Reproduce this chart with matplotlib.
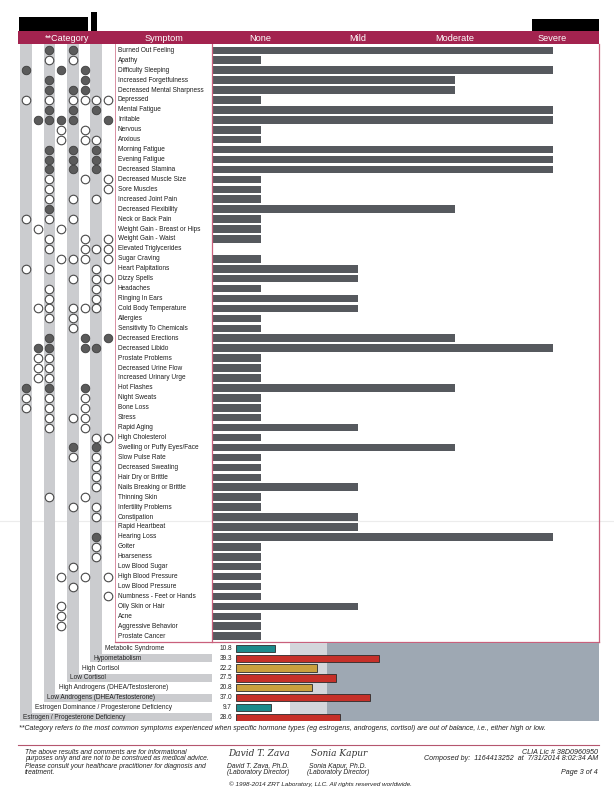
import matplotlib
matplotlib.use("Agg")
import matplotlib.pyplot as plt
from matplotlib import font_manager as fm
from matplotlib import transforms as mtransforms
from matplotlib.patches import Rectangle
from matplotlib.lines import Line2D

# ---------------- data ----------------
symptoms = [
    "Burned Out Feeling", "Apathy", "Difficulty Sleeping", "Increased Forgetfulness",
    "Decreased Mental Sharpness", "Depressed", "Mental Fatigue", "Irritable", "Nervous",
    "Anxious", "Morning Fatigue", "Evening Fatigue", "Decreased Stamina",
    "Decreased Muscle Size", "Sore Muscles", "Increased Joint Pain", "Decreased Flexibility",
    "Neck or Back Pain", "Weight Gain - Breast or Hips", "Weight Gain - Waist",
    "Elevated Triglycerides", "Sugar Craving", "Heart Palpitations", "Dizzy Spells",
    "Headaches", "Ringing In Ears", "Cold Body Temperature", "Allergies",
    "Sensitivity To Chemicals", "Decreased Erections", "Decreased Libido",
    "Prostate Problems", "Decreased Urine Flow", "Increased Urinary Urge", "Hot Flashes",
    "Night Sweats", "Bone Loss", "Stress", "Rapid Aging", "High Cholesterol",
    "Swelling or Puffy Eyes/Face", "Slow Pulse Rate", "Decreased Sweating",
    "Hair Dry or Brittle", "Nails Breaking or Brittle", "Thinning Skin",
    "Infertility Problems", "Constipation", "Rapid Heartbeat", "Hearing Loss", "Goiter",
    "Hoarseness", "Low Blood Sugar", "High Blood Pressure", "Low Blood Pressure",
    "Numbness - Feet or Hands", "Oily Skin or Hair", "Acne", "Aggressive Behavior",
    "Prostate Cancer",
]
severity_levels = ["None", "Mild", "Moderate", "Severe"]
# 0=None 1=Mild 2=Moderate 3=Severe, None = not reported
severity = [3, 0, 3, 2, 2, 0, 3, 3, 0, 0,
            3, 3, 3, 0, 0, 0, 2, 0, 0, 0,
            None, 0, 1, 1, 0, 1, 1, 0, 0, 2,
            3, 0, 0, 0, 2, 0, 0, 0, 1, 0,
            2, 0, 0, 0, 1, 0, 0, 1, 1, 3,
            0, 0, 0, 0, 0, 0, 1, 0, 0, 0]
# category marks per symptom, columns left->right; F=filled, O=open, .=none
category_marks = [
    "..F.F...", "..O.O...", "F..F.F..", "..F..F..", "..F.FF..",
    "O.O.OOOO", "..F.F.F.", ".FFFF..F", "...O.O..", "...O.OO.",
    "..F.F.F.", "..F.F.F.", "..F.F.F.", "..O..O.O", "..O....O",
    "..O.O.O.", "..F.....", "O.O.O...", ".O.O....", "..O..O.O",
    "..O..OOO", "...OOO.O", "O.O...O.", "....O.OO", "..O...O.",
    "..O...O.", ".OO.OOO.", "..O.O...", "....O...", "..F..F.F",
    ".FF..FF.", ".OO.....", ".OO.....", ".OO.....", "F.F..F..",
    "O.O..O..", "O.O..O..", "..O.OO..", "..O..O..", "......OO",
    "....F.F.", "....O.O.", "......O.", "......O.", "......O.",
    "..O..O..", "....O.O.", "......O.", "........", "......F.",
    "......O.", "......O.", "....O...", "...O.O.O", "....O...",
    ".......O", "...O....", "...O....", "...O....", "........",
]
categories = ["Metabolic Syndrome", "Hypometabolism", "High Cortisol", "Low Cortisol",
              "High Androgens (DHEA/Testosterone)", "Low Androgens (DHEA/Testosterone)",
              "Estrogen Dominance / Progesterone Deficiency",
              "Estrogen / Progesterone Deficiency"]
scores = [10.8, 39.3, 22.2, 27.5, 20.8, 37.0, 9.7, 28.6]
shaded_categories = ["Hypometabolism", "Low Cortisol", "Low Androgens (DHEA/Testosterone)",
                     "Estrogen / Progesterone Deficiency"]
score_bands = [15, 25, 100]

# ---------------- style ----------------
names = {f.name for f in fm.fontManager.ttflist}
FAM = [f for f in ["Liberation Sans Narrow", "Liberation Sans", "DejaVu Sans"] if f in names]
plt.rcParams["font.family"] = FAM
MAROON = "#a3234f"
BARC = "#56595e"
STRIPE = "#cbcccf"
PINK = "#c9607c"
DOT = "#5b5b5b"

W, H = 614, 800
fig = plt.figure(figsize=(W / 100, H / 100), dpi=100)
fig.patch.set_facecolor("white")
renderer = fig.canvas.get_renderer()


def ax_px(x0, y0, x1, y1):
    return fig.add_axes([x0 / W, 1 - y1 / H, (x1 - x0) / W, (y1 - y0) / H])


def fit(t, width_px):
    bb = t.get_window_extent(renderer)
    t.set_fontsize(t.get_fontsize() * width_px / bb.width)
    return t.get_fontsize()


def ftext(x, y, s, **kw):
    return fig.text(x / W, 1 - y / H, s, **kw)


# layout (pixels)
ROW0, ROWH = 50.3, 9.93
TOP, SYM_BOT = 44.3, 642.1
COL0, COLW = 26.0, 11.7
LEFT, BAR_L, RIGHT = 18, 212, 599
BOT_TOP, BOT_BOT, BOT_ROW0, BOT_ROWH, BOT_L = 643.3, 720.7, 648.3, 9.86, 236
LEVEL_W = 97.3


def row(px):
    return (px - ROW0) / ROWH


def col(px):
    return (px - COL0) / COLW


# faint scanner fold line
fig.add_artist(Line2D([0, 1], [1 - 521 / H] * 2, color="#ececec", lw=0.8,
                      transform=fig.transFigure, zorder=0))

# ---------------- left panel: categories + symptom names ----------------
axl = ax_px(LEFT, TOP, BAR_L, BOT_BOT)
axl.set_xlim(col(LEFT), col(BAR_L))
axl.set_ylim(row(BOT_BOT), row(TOP))
axl.axis("off")
ncat = len(categories)
for k, cat in enumerate(categories):
    c = ncat - 1 - k
    rk = row(BOT_ROW0 + k * BOT_ROWH)
    if cat in shaded_categories:
        axl.add_patch(Rectangle((c - 0.5, row(TOP)), 1.0, rk + 0.41 - row(TOP),
                                facecolor=STRIPE, lw=0, zorder=0))
        axl.add_patch(Rectangle((c - 0.5, rk - 0.41), col(BAR_L) - (c - 0.5), 0.82,
                                facecolor=STRIPE, lw=0, zorder=0))
cat_txt = []
for k, cat in enumerate(categories):
    c = ncat - 1 - k
    rk = row(BOT_ROW0 + k * BOT_ROWH)
    cat_txt.append(axl.text(c - 0.22, rk, cat, ha="left", va="center",
                            fontsize=6, color="#222222"))

fx, fy, ox, oy = [], [], [], []
for i, marks in enumerate(category_marks):
    for c, ch in enumerate(marks):
        if ch == "F":
            fx.append(c); fy.append(i)
        elif ch == "O":
            ox.append(c); oy.append(i)
axl.scatter(fx, fy, s=38, facecolor=DOT, edgecolor="#3d3d3d", linewidth=0.6, zorder=3)
axl.scatter(ox, oy, s=38, facecolor="white", edgecolor="#4a4a4a", linewidth=0.8, zorder=3)

sym_txt = []
for i, s in enumerate(symptoms):
    sym_txt.append(axl.text(col(118), i, s, ha="left", va="center", fontsize=6,
                            color="#1e1e1e"))
axl.plot([col(115), col(115)], [row(TOP), row(SYM_BOT)], color=PINK, lw=0.7, alpha=0.7)
axl.plot([col(115), col(BAR_L)], [row(SYM_BOT), row(SYM_BOT)], color=PINK, lw=0.9)

# ---------------- symptom severity bars ----------------
axb = ax_px(BAR_L, TOP, RIGHT, SYM_BOT)
axb.set_xlim(-0.5, (RIGHT - BAR_L) / LEVEL_W - 0.5)
axb.set_ylim(row(SYM_BOT), row(TOP))
ys = [i for i, v in enumerate(severity) if v is not None]
ws = [severity[i] + 0.5 for i in ys]
axb.barh(ys, ws, left=-0.5, height=0.76, color=BARC, lw=0)
axb.set_xticks([]); axb.set_yticks([])
axb.set_facecolor("none")
axb.spines["top"].set_visible(False)
for sp in ("left", "right", "bottom"):
    axb.spines[sp].set_color(PINK)
    axb.spines[sp].set_linewidth(0.9)

# ---------------- header band ----------------
axh = ax_px(LEFT, 31, RIGHT, TOP)
axh.set_xlim(LEFT, RIGHT); axh.set_ylim(0, 1)
axh.set_facecolor(MAROON)
axh.set_xticks([]); axh.set_yticks([])
for sp in axh.spines.values():
    sp.set_visible(False)
t_sym = axh.text(164, 0.47, "Symptom", ha="center", va="center", color="white", fontsize=7.5)
hsize = fit(t_sym, 38)
axh.text(67, 0.47, "**Category", ha="center", va="center", color="white", fontsize=hsize)
blend = mtransforms.blended_transform_factory(axb.transData, axh.transAxes)
for j, lab in enumerate(severity_levels):
    axh.text(j, 0.47, lab, transform=blend, ha="center", va="center", color="white",
             fontsize=hsize)

# redaction boxes
for (x0, y0, x1, y1) in [(19, 17, 88, 31), (91, 12, 97, 31), (532, 19, 599, 31)]:
    fig.add_artist(Rectangle((x0 / W, 1 - y1 / H), (x1 - x0) / W, (y1 - y0) / H,
                             transform=fig.transFigure, facecolor="black", lw=0))

# ---------------- category score bars ----------------
axs = ax_px(BOT_L, BOT_TOP, RIGHT, BOT_BOT)
axs.set_xlim(0, 100)
axs.set_ylim((BOT_BOT - BOT_ROW0) / BOT_ROWH, (BOT_TOP - BOT_ROW0) / BOT_ROWH)
axs.axvspan(score_bands[0], score_bands[1], color="#d3d6db", lw=0, zorder=0)
axs.axvspan(score_bands[1], score_bands[2], color="#9ea8b3", lw=0, zorder=0)


def band_color(v):
    if v < score_bands[0]:
        return "#1d8a8b"
    if v < score_bands[1]:
        return "#caa03e"
    return "#c63029"


axs.barh(range(len(scores)), scores, height=0.74,
         color=[band_color(v) for v in scores], edgecolor="#2b2b2b", linewidth=0.6, zorder=2)
axs.axis("off")
for k, v in enumerate(scores):
    axs.text(-1.1, k, f"{v:.1f}", ha="right", va="center", fontsize=6, color="#222222",
             clip_on=False)

# fit label fonts
r = fit(sym_txt[4], 87)
for t in sym_txt:
    t.set_fontsize(r)
c6 = fit(cat_txt[6], 139)
for t in cat_txt:
    t.set_fontsize(c6)
for t in axs.texts:
    t.set_fontsize(c6)

# ---------------- footer ----------------
fn = ftext(19, 728, "**Category refers to the most common symptoms experienced when specific hormone "
           "types (eg estrogens, androgens, cortisol) are out of balance, i.e., either high or low.",
           style="italic", va="center", ha="left", fontsize=5.5, color="#222222")
fit(fn, 527)
fig.add_artist(Line2D([18 / W, RIGHT / W], [1 - 745 / H] * 2, color="#b5566e", lw=0.8,
                      transform=fig.transFigure))
left_lines = ["The above results and comments are for informational",
              "purposes only and are not to be construed as medical advice.",
              "Please consult your healthcare practitioner for diagnosis and",
              "treatment."]
lt = []
for n, s in enumerate(left_lines):
    lt.append(ftext(25, 752 + 7 * n, s, style="italic", va="center", ha="left",
                    fontsize=5.5, color="#222222"))
fs = fit(lt[1], 186)
for t in lt:
    t.set_fontsize(fs)

ftext(259, 753, "David T. Zava", family="DejaVu Serif", style="italic", fontsize=6.5,
      ha="center", va="center", color="#333333")
ftext(339, 753, "Sonia Kapur", family="DejaVu Serif", style="italic", fontsize=6.5,
      ha="center", va="center", color="#333333")
for x, nm in [(258, "David T. Zava, Ph.D."), (338, "Sonia Kapur, Ph.D.")]:
    ftext(x, 766, nm, style="italic", ha="center", va="center", fontsize=fs, color="#222222")
    ftext(x, 773, "(Laboratory Director)", style="italic", ha="center", va="center",
          fontsize=fs, color="#222222")
ct = ftext(320, 784, "\u00a9 1998-2014 ZRT Laboratory, LLC. All rights reserved worldwide.",
           style="italic", ha="center", va="center", fontsize=fs, color="#222222")
fit(ct, 181)
r1 = ftext(598, 752, "CLIA Lic # 38D0960950", style="italic", ha="right", va="center",
           fontsize=fs, color="#222222")
r2 = ftext(598, 759, "Composed by:  1164413252  at  7/31/2014 8:02:34 AM", style="italic",
           ha="right", va="center", fontsize=fs, color="#222222")
fit(r2, 172)
r1.set_fontsize(r2.get_fontsize())
ftext(598, 772, "Page 3 of 4", style="italic", ha="right", va="center",
      fontsize=r2.get_fontsize(), color="#222222")

fig.savefig("out.png", dpi=100)
